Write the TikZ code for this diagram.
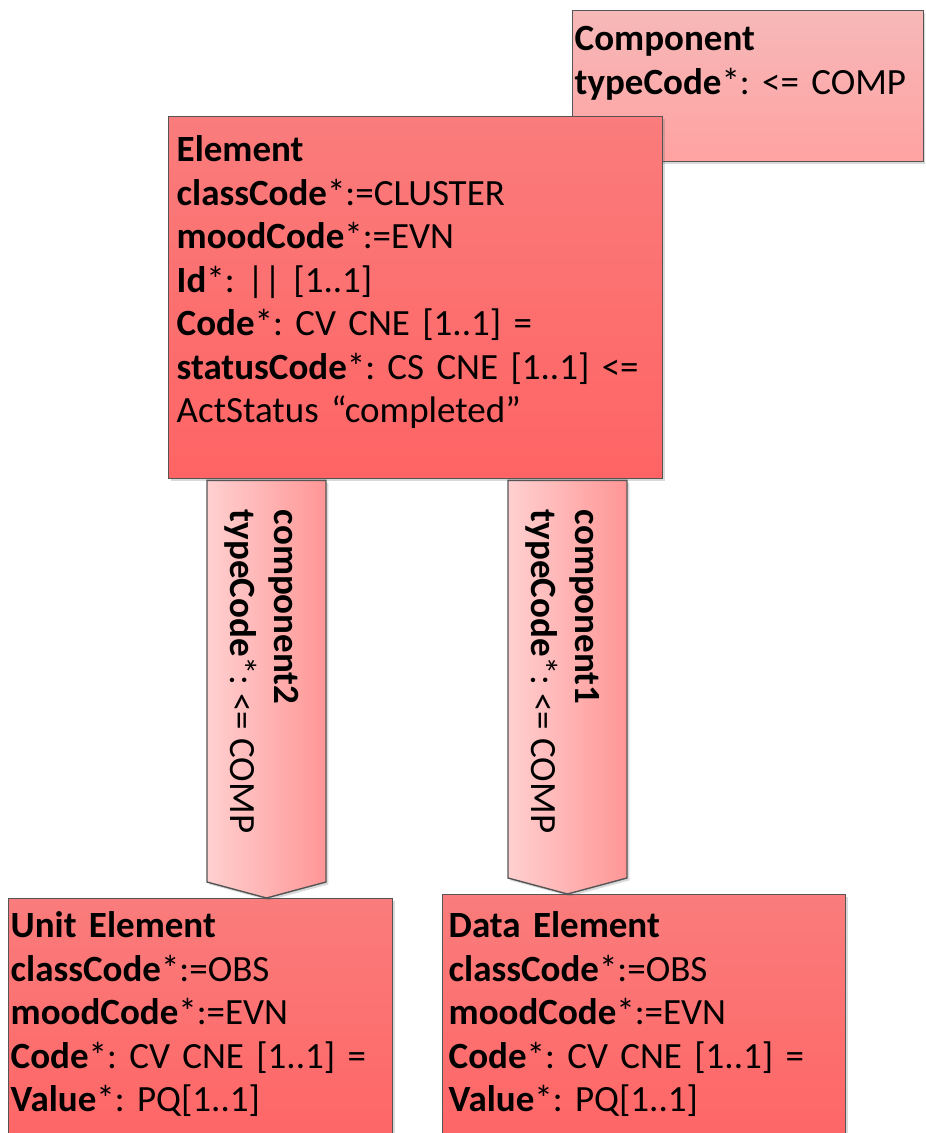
\documentclass[tikz,border=0pt]{standalone}
\usepackage{fontspec}
\setmainfont{Carlito}
\frenchspacing
\usetikzlibrary{shadows,calc}

\definecolor{rim}{RGB}{85,85,85}
\definecolor{redtop}{RGB}{250,124,124}
\definecolor{redbot}{RGB}{255,100,100}
\definecolor{pinktop}{RGB}{247,184,184}
\definecolor{pinkbot}{RGB}{255,162,162}
\definecolor{arrowlight}{RGB}{255,208,208}
\definecolor{arrowdark}{RGB}{255,150,150}

\begin{document}
\begin{tikzpicture}[x=1pt,y=-1pt,
  umlbox/.style={draw=rim, line width=0.7pt, anchor=north west, inner ysep=0pt, align=left,
    font=\fontsize{18.5pt}{21.75pt}\selectfont,
    drop shadow={shadow xshift=1.2pt,shadow yshift=-1.2pt,opacity=0.25,fill=black!60}},
  actbox/.style={umlbox, top color=redtop, bottom color=redbot},
  relbox/.style={umlbox, top color=pinktop, bottom color=pinkbot},
  relarrow/.style={draw=rim, line width=0.7pt, left color=arrowlight, right color=arrowdark,
    drop shadow={shadow xshift=1.2pt,shadow yshift=-1.2pt,opacity=0.25,fill=black!60}},
  arrowlabel/.style={rotate=-90, anchor=west, inner sep=0pt, align=left,
    font=\fontsize{18.5pt}{21.75pt}\selectfont}]
\clip (0,0) rectangle (462.5,566.5);

% boxes
\node[relbox, text width=173.5pt, inner xsep=1pt, text height=20pt, text depth=55.5pt] (comp) at (286,5)
  {\textbf{Component}\\\textbf{typeCode}*: <= COMP};

\node[actbox, text width=239pt, inner xsep=4pt, text height=22.5pt, text depth=158.5pt] (elem) at (84,58)
  {\textbf{Element}\\
   \textbf{classCode}*:=CLUSTER\\
   \textbf{moodCode}*:=EVN\\
   \textbf{Id}*: || [1..1]\\
   \textbf{Code}*: CV CNE [1..1] =\\
   \textbf{statusCode}*: CS CNE [1..1] <=\\
   ActStatus “completed”};

\node[actbox, text width=190pt, inner xsep=1pt, text height=19.5pt, text depth=110pt] (unit) at (4,449)
  {\textbf{Unit Element}\\
   \textbf{classCode}*:=OBS\\
   \textbf{moodCode}*:=EVN\\
   \textbf{Code}*: CV CNE [1..1] =\\
   \textbf{Value}*: PQ[1..1]};

\node[actbox, text width=195.5pt, inner xsep=3pt, text height=21.5pt, text depth=110pt] (data) at (221,447)
  {\textbf{Data Element}\\
   \textbf{classCode}*:=OBS\\
   \textbf{moodCode}*:=EVN\\
   \textbf{Code}*: CV CNE [1..1] =\\
   \textbf{Value}*: PQ[1..1]};

% block arrows
\coordinate (c2) at ($(elem.south west)+(49.25,0.5)$);
\coordinate (c2tip) at (c2 |- unit.north);
\draw[relarrow] ($(c2)+(-29.75,0)$) -- ($(c2tip)+(-29.75,-8)$) -- (c2tip)
  -- ($(c2tip)+(29.75,-8)$) -- ($(c2)+(29.75,0)$) -- cycle;
\node[arrowlabel] (lab2) at ($(c2)+(-2.5,14.5)$)
  {\textbf{component2}\\\textbf{typeCode}*: <= COMP};

\coordinate (c1) at ($(elem.south west)+(199.75,0.5)$);
\coordinate (c1tip) at (c1 |- data.north);
\draw[relarrow] ($(c1)+(-29.75,0)$) -- ($(c1tip)+(-29.75,-8)$) -- (c1tip)
  -- ($(c1tip)+(29.75,-8)$) -- ($(c1)+(29.75,0)$) -- cycle;
\node[arrowlabel] (lab1) at ($(c1)+(-2.5,14.5)$)
  {\textbf{component1}\\\textbf{typeCode}*: <= COMP};

\end{tikzpicture}
\end{document}
